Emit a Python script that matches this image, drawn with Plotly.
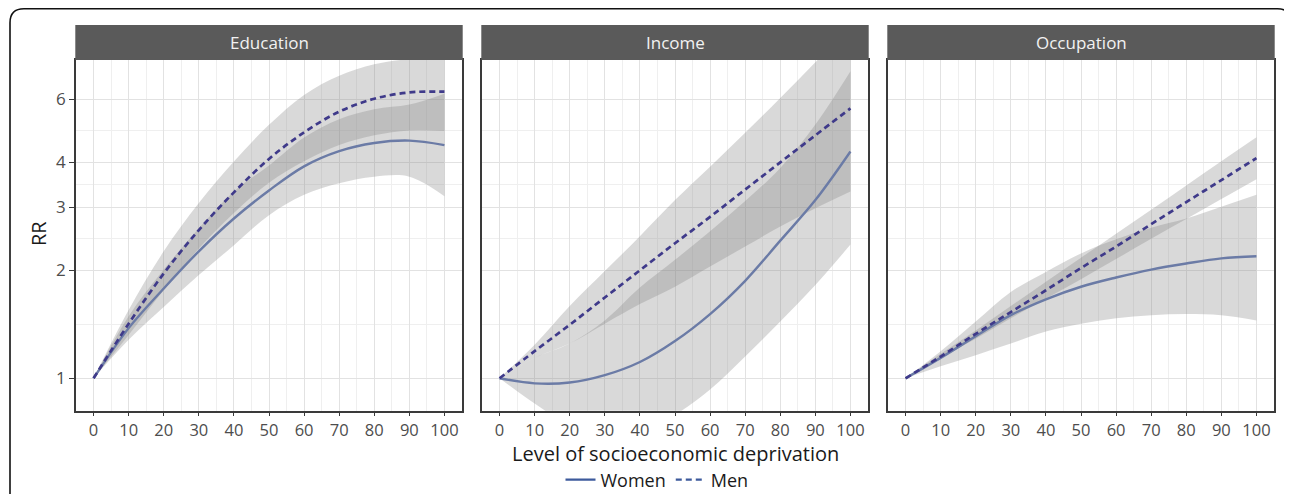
import plotly.graph_objects as go

# ---------------- data ----------------
x_vals = [0, 10, 20, 30, 40, 50, 60, 70, 80, 90, 100]
panels = ["Education", "Income", "Occupation"]
x_ticks = [0, 10, 20, 30, 40, 50, 60, 70, 80, 90, 100]
y_ticks = [1, 2, 3, 4, 6]

edu_women = [1.00, 1.38, 1.78, 2.26, 2.79, 3.34, 3.90, 4.30, 4.53, 4.60, 4.47]
edu_women_lo = [1.00, 1.28, 1.58, 1.94, 2.35, 2.85, 3.25, 3.50, 3.65, 3.65, 3.22]
edu_women_hi = [1.00, 1.49, 2.01, 2.62, 3.32, 3.92, 4.69, 5.28, 5.63, 5.80, 6.22]
edu_men = [1.00, 1.42, 1.96, 2.59, 3.30, 4.09, 4.85, 5.54, 6.02, 6.27, 6.30]
edu_men_lo = [1.00, 1.32, 1.76, 2.30, 2.89, 3.51, 4.03, 4.47, 4.76, 4.91, 4.89]
edu_men_hi = [1.00, 1.55, 2.26, 3.08, 4.02, 5.09, 6.17, 6.98, 7.51, 7.77, 7.89]

inc_women = [1.00, 0.968, 0.973, 1.02, 1.11, 1.27, 1.51, 1.87, 2.42, 3.14, 4.29]
inc_women_lo = [1.00, 0.85, 0.74, 0.69, 0.70, 0.79, 0.93, 1.15, 1.44, 1.82, 2.36]
inc_women_hi = [1.00, 1.14, 1.25, 1.45, 1.79, 2.14, 2.57, 3.12, 3.86, 5.10, 7.18]
inc_men = [1.00, 1.19, 1.41, 1.68, 2.00, 2.38, 2.82, 3.36, 4.00, 4.76, 5.66]
inc_men_lo = [1.00, 1.14, 1.25, 1.42, 1.61, 1.80, 2.05, 2.33, 2.65, 2.98, 3.32]
inc_men_hi = [1.00, 1.24, 1.59, 1.99, 2.49, 3.14, 3.89, 4.84, 6.05, 7.61, 9.67]

occ_women = [1.00, 1.14, 1.31, 1.50, 1.66, 1.80, 1.91, 2.01, 2.09, 2.16, 2.19]
occ_women_lo = [1.00, 1.08, 1.16, 1.25, 1.35, 1.42, 1.47, 1.50, 1.51, 1.50, 1.45]
occ_women_hi = [1.00, 1.19, 1.44, 1.74, 1.98, 2.23, 2.44, 2.63, 2.79, 3.01, 3.25]
occ_men = [1.00, 1.15, 1.33, 1.53, 1.76, 2.03, 2.33, 2.69, 3.10, 3.57, 4.11]
occ_men_lo = [1.00, 1.14, 1.29, 1.47, 1.67, 1.89, 2.15, 2.45, 2.78, 3.16, 3.59]
occ_men_hi = [1.00, 1.17, 1.36, 1.59, 1.86, 2.17, 2.53, 2.95, 3.45, 4.03, 4.70]

series = [
    (edu_women, edu_women_lo, edu_women_hi, edu_men, edu_men_lo, edu_men_hi),
    (inc_women, inc_women_lo, inc_women_hi, inc_men, inc_men_lo, inc_men_hi),
    (occ_women, occ_women_lo, occ_women_hi, occ_men, occ_men_lo, occ_men_hi),
]

# ---------------- styling ----------------
# the page body has an 8px margin, so the figure is drawn 8px in from the top-left
OFF = 8
W, H = 1292 - OFF, 494 - OFF
FONT = "Open Sans"
RIBBON = "rgba(128,128,128,0.30)"
WOMEN_COL = "#6b7ba6"
MEN_COL = "#3f3a8a"
LEGEND_COL = "#3d5a9c"

px_x = lambda p: (p - OFF) / W          # page pixel -> paper fraction
px_y = lambda p: 1 - (p - OFF) / H

panel_px = [(76, 462), (482, 868), (888, 1274)]
y_dom = [px_y(410.7), px_y(60)]

fig = go.Figure()

for i, (w, wlo, whi, m, mlo, mhi) in enumerate(series):
    xa = "x" if i == 0 else f"x{i+1}"
    ya = "y" if i == 0 else f"y{i+1}"
    common = dict(xaxis=xa, yaxis=ya, hoverinfo="skip", showlegend=False)
    # women ribbon
    fig.add_trace(go.Scatter(x=x_vals, y=wlo, mode="lines", line=dict(width=0, shape="spline"), **common))
    fig.add_trace(go.Scatter(x=x_vals, y=whi, mode="lines", line=dict(width=0, shape="spline"),
                             fill="tonexty", fillcolor=RIBBON, **common))
    # men ribbon
    fig.add_trace(go.Scatter(x=x_vals, y=mlo, mode="lines", line=dict(width=0, shape="spline"), **common))
    fig.add_trace(go.Scatter(x=x_vals, y=mhi, mode="lines", line=dict(width=0, shape="spline"),
                             fill="tonexty", fillcolor=RIBBON, **common))
    # lines
    fig.add_trace(go.Scatter(x=x_vals, y=w, mode="lines",
                             line=dict(color=WOMEN_COL, width=2.4, shape="spline"), **common))
    fig.add_trace(go.Scatter(x=x_vals, y=m, mode="lines",
                             line=dict(color=MEN_COL, width=2.7, dash="6px,4px", shape="spline"), **common))

# legend-only traces
fig.add_trace(go.Scatter(x=[None], y=[None], mode="lines", name="Women",
                         line=dict(color=LEGEND_COL, width=2.2)))
fig.add_trace(go.Scatter(x=[None], y=[None], mode="lines", name="Men",
                         line=dict(color=LEGEND_COL, width=2.2, dash="6px,4px")))

axis_line = dict(showline=True, linecolor="#3a3a3a", linewidth=1.5, mirror=True)
for i, (l, r) in enumerate(panel_px):
    sfx = "" if i == 0 else str(i + 1)
    fig.layout["xaxis" + sfx] = dict(
        domain=[px_x(l), px_x(r)], anchor="y" + sfx, range=[-5, 105], automargin=False,
        tickmode="array", tickvals=x_ticks, ticktext=[str(v) for v in x_ticks],
        ticks="outside", ticklen=4, tickwidth=1.3, tickcolor="#3a3a3a",
        tickfont=dict(family=FONT, size=16.5, color="#4d4d4d"),
        showgrid=True, gridcolor="#e2e2e2", gridwidth=1.1, zeroline=False,
        minor=dict(tickmode="array", tickvals=[5, 15, 25, 35, 45, 55, 65, 75, 85, 95],
                   showgrid=True, gridcolor="#efefef", gridwidth=0.9, ticklen=0),
        fixedrange=True, **axis_line)
    fig.layout["yaxis" + sfx] = dict(
        domain=y_dom, anchor="x" + sfx, type="log", range=[-0.0904, 0.8876], automargin=False,
        tickmode="array", tickvals=y_ticks, ticktext=[str(v) for v in y_ticks],
        showticklabels=(i == 0), ticks="outside" if i == 0 else "",
        ticklen=5, tickwidth=1.3, tickcolor="#3a3a3a",
        tickfont=dict(family=FONT, size=17, color="#4d4d4d"),
        showgrid=True, gridcolor="#e2e2e2", gridwidth=1.1, zeroline=False,
        minor=dict(tickmode="array", tickvals=[1.414, 2.449, 3.464, 4.899],
                   showgrid=True, gridcolor="#efefef", gridwidth=0.9, ticklen=0),
        fixedrange=True, **axis_line)

shapes = []
annotations = []
for (l, r), name in zip(panel_px, panels):
    shapes.append(dict(type="rect", xref="paper", yref="paper",
                       x0=px_x(l - 0.7), x1=px_x(r + 0.7), y0=px_y(60), y1=px_y(25),
                       fillcolor="#5a5a5a", line=dict(width=0), layer="above"))
    annotations.append(dict(text=name, xref="paper", yref="paper",
                            x=px_x((l + r) / 2), y=px_y(42.5), xanchor="center", yanchor="middle",
                            showarrow=False, font=dict(family=FONT, size=17, color="#f2f2f2")))

# outer rounded frame (open at the bottom)
fx0, fx1, fy = px_x(10), px_x(1291.5), px_y(8.8)
rx, ry = 14 / W, 14 / H
shapes.append(dict(type="path", xref="paper", yref="paper", layer="above",
                   path=(f"M {fx0},0 L {fx0},{fy - ry} Q {fx0},{fy} {fx0 + rx},{fy} "
                         f"L {fx1 - rx},{fy} Q {fx1},{fy} {fx1},{fy - ry}"),
                   line=dict(color="#111111", width=1.6)))

annotations.append(dict(text="RR", xref="paper", yref="paper", x=px_x(38), y=px_y(234),
                        textangle=-90, showarrow=False, xanchor="center", yanchor="middle",
                        font=dict(family=FONT, size=20, color="#1a1a1a")))
annotations.append(dict(text="Level of socioeconomic deprivation", xref="paper", yref="paper",
                        x=px_x(675), y=px_y(453), showarrow=False, xanchor="center", yanchor="middle",
                        font=dict(family=FONT, size=20, color="#1a1a1a")))

fig.update_layout(
    width=W, height=H, margin=dict(l=0, r=0, t=0, b=0, autoexpand=False),
    paper_bgcolor="white", plot_bgcolor="white",
    shapes=shapes, annotations=annotations,
    showlegend=True,
    legend=dict(orientation="h", x=px_x(657), xanchor="center", y=px_y(480), yanchor="middle",
                traceorder="normal",
                font=dict(family=FONT, size=18, color="#1a1a1a"), bgcolor="rgba(0,0,0,0)",
                itemclick=False, itemdoubleclick=False, tracegroupgap=0),
    font=dict(family=FONT),
)

fig.write_html("out.html")
